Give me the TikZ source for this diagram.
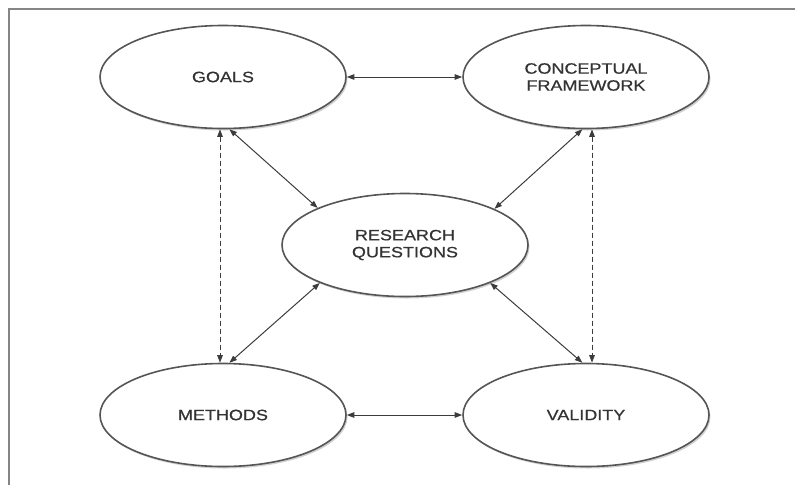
\documentclass[tikz,border=0pt]{standalone}
\usepackage{fontspec}
\setmainfont{Liberation Sans}[FakeStretch=1.2, FakeBold=0.6]
\usetikzlibrary{arrows.meta,shapes.geometric,shadows}

\definecolor{ringgrey}{HTML}{555555}
\definecolor{linkgrey}{HTML}{3C3C3C}
\definecolor{labelgrey}{HTML}{333333}
\definecolor{framegrey}{HTML}{858585}

\begin{document}
\begin{tikzpicture}[x=1pt, y=-1pt,
  bubble/.style={ellipse, draw=ringgrey, line width=1.6pt, fill=white,
    minimum width=246pt, minimum height=103pt, inner sep=0pt, align=center,
    font=\fontsize{15}{17}\selectfont, text=labelgrey,
    drop shadow={shadow xshift=1.5pt, shadow yshift=-2pt, opacity=0.3, fill=black!60}},
  tip/.tip={Triangle[length=7.5pt,width=5.5pt]},
  link/.style={arrows={tip-tip}, line width=1pt, draw=linkgrey},
  dashlink/.style={link, dash pattern=on 5pt off 3pt}
]
\useasboundingbox (0,0) rectangle (795,485);

% frame of the figure
\draw[framegrey, line width=1.6pt] (9,485) -- (9,9) -- (795,9);

% the five components
\node[bubble] (goals)    at (223,77)  {GOALS};
\node[bubble] (frame)    at (586,77)  {CONCEPTUAL\\FRAMEWORK};
\node[bubble] (rq)       at (405,245) {RESEARCH\\QUESTIONS};
\node[bubble] (methods)  at (223,415) {METHODS};
\node[bubble] (validity) at (586,415) {VALIDITY};

% horizontal links
\draw[link] (goals.east) -- (frame.west);
\draw[link] (methods.east) -- (validity.west);

% links through the research questions
\draw[link] (goals.-83)    -- (rq.157);
\draw[link] (frame.-94)    -- (rq.22);
\draw[link] (methods.83)   -- (rq.-156);
\draw[link] (validity.94)  -- (rq.-24);

% weaker vertical links
\draw[dashlink] ([xshift=-3pt]goals.south) -- ([xshift=-3pt]methods.north);
\draw[dashlink] ([xshift=6pt]frame.south)  -- ([xshift=6pt]validity.north);
\end{tikzpicture}
\end{document}
